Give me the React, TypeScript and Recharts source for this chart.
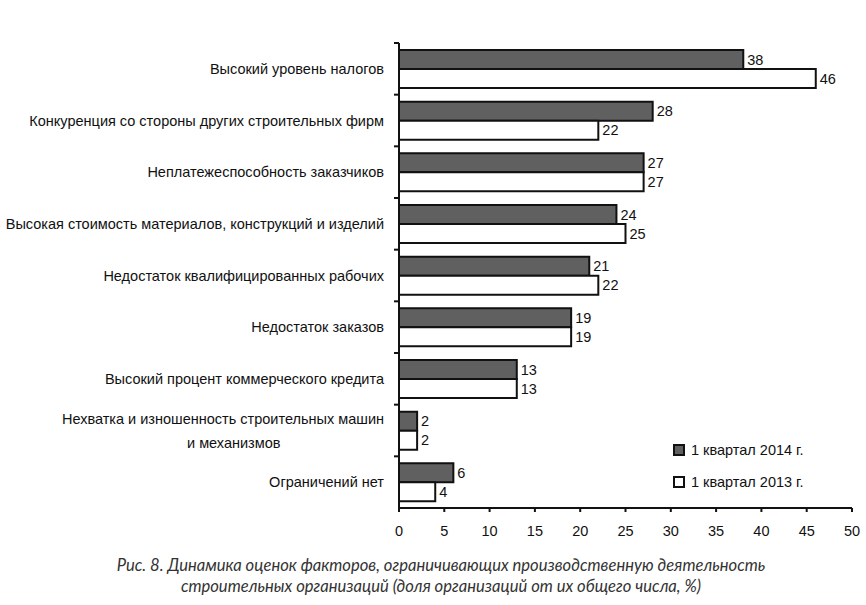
import React from "react";
import { BarChart, Bar, XAxis, YAxis, LabelList } from "recharts";

const categories: string[][] = [
  ["Высокий уровень налогов"],
  ["Конкуренция со стороны других строительных фирм"],
  ["Неплатежеспособность заказчиков"],
  ["Высокая стоимость материалов, конструкций и изделий"],
  ["Недостаток квалифицированных рабочих"],
  ["Недостаток заказов"],
  ["Высокий процент коммерческого кредита"],
  ["Нехватка и изношенность строительных машин", "и механизмов"],
  ["Ограничений нет"],
];
const q2014: number[] = [38, 28, 27, 24, 21, 19, 13, 2, 6];
const q2013: number[] = [46, 22, 27, 25, 22, 19, 13, 2, 4];
const seriesNames = ["1 квартал 2014 г.", "1 квартал 2013 г."];
const seriesFills = ["#606060", "#fff"];
const xTicks: number[] = [0, 5, 10, 15, 20, 25, 30, 35, 40, 45, 50];
const caption = [
  "Рис. 8. Динамика оценок факторов, ограничивающих производственную деятельность",
  "строительных организаций (доля организаций от их общего числа, %)",
];

const data = categories.map((c, i) => ({
  name: String(i),
  a: q2014[i],
  b: q2013[i],
}));

const FONT = "'Liberation Sans', Arial, sans-serif";
const FS = 14.5;

const CategoryTick = (props: any) => {
  const { x, y, payload } = props;
  const idx = Number(payload.value);
  const lines = categories[idx];
  const half = payload.offset ?? 25.8;
  const textX = x - 15;
  let content;
  if (lines.length === 1) {
    content = (
      <text x={textX} y={y} dy={5} textAnchor="end" fontSize={FS} fontFamily={FONT} fill="#111">
        {lines[0]}
      </text>
    );
  } else {
    content = (
      <g>
        <text x={textX} y={y - 12} dy={5} textAnchor="end" fontSize={FS} fontFamily={FONT} fill="#111">
          {lines[0]}
        </text>
        <text x={textX - 197} y={y + 12} dy={5} textAnchor="start" fontSize={FS} fontFamily={FONT} fill="#111">
          {lines[1]}
        </text>
      </g>
    );
  }
  return (
    <g>
      <line x1={x - 5} x2={x} y1={y - half} y2={y - half} stroke="#111" strokeWidth={2} />
      {content}
    </g>
  );
};

export default function App() {
  return (
    <div style={{ position: "absolute", left: 0, top: 0, width: 866, height: 605, background: "#fff" }}>
      <BarChart
        width={866}
        height={540}
        data={data}
        layout="vertical"
        margin={{ top: 43, right: 14, bottom: 0, left: 0 }}
        barGap={0}
        barSize={19}
      >
        <XAxis
          type="number"
          domain={[0, 50]}
          ticks={xTicks}
          interval={0}
          height={32}
          axisLine={{ stroke: "#111", strokeWidth: 2 }}
          tickLine={{ stroke: "#111", strokeWidth: 2 }}
          tickSize={4}
          tickMargin={14}
          tick={{ fontSize: FS, fontFamily: FONT, fill: "#111" }}
        />
        <YAxis
          type="category"
          dataKey="name"
          width={399}
          axisLine={{ stroke: "#111", strokeWidth: 2 }}
          tickLine={false}
          tickSize={0}
          tickMargin={0}
          interval={0}
          tick={<CategoryTick />}
        />
        <Bar dataKey="a" name={seriesNames[0]} fill={seriesFills[0]} stroke="#111" strokeWidth={2} isAnimationActive={false}>
          <LabelList dataKey="a" position="right" offset={4} fontSize={FS} fontFamily={FONT} fill="#111" />
        </Bar>
        <Bar dataKey="b" name={seriesNames[1]} fill={seriesFills[1]} stroke="#111" strokeWidth={2} isAnimationActive={false}>
          <LabelList dataKey="b" position="right" offset={4} fontSize={FS} fontFamily={FONT} fill="#111" />
        </Bar>
      </BarChart>
      <div
        style={{
          position: "absolute",
          left: 673,
          top: 434,
          fontFamily: FONT,
          fontSize: FS,
          color: "#111",
        }}
      >
        {seriesNames.map((n, i) => (
          <div key={n} style={{ display: "flex", alignItems: "center", height: 32 }}>
            <span
              style={{
                display: "inline-block",
                width: 8,
                height: 8,
                background: seriesFills[i],
                border: "2px solid #111",
                marginRight: 6,
              }}
            />
            <span>{n}</span>
          </div>
        ))}
      </div>
      <div
        style={{
          position: "absolute",
          left: 0,
          top: 555,
          width: 882,
          textAlign: "center",
          fontFamily: "Lato, 'Open Sans', sans-serif",
          fontStyle: "italic",
          fontSize: 16.6,
          lineHeight: "21px",
          color: "#333",
        }}
      >
        {caption.map((c) => (
          <div key={c}>{c}</div>
        ))}
      </div>
    </div>
  );
}
